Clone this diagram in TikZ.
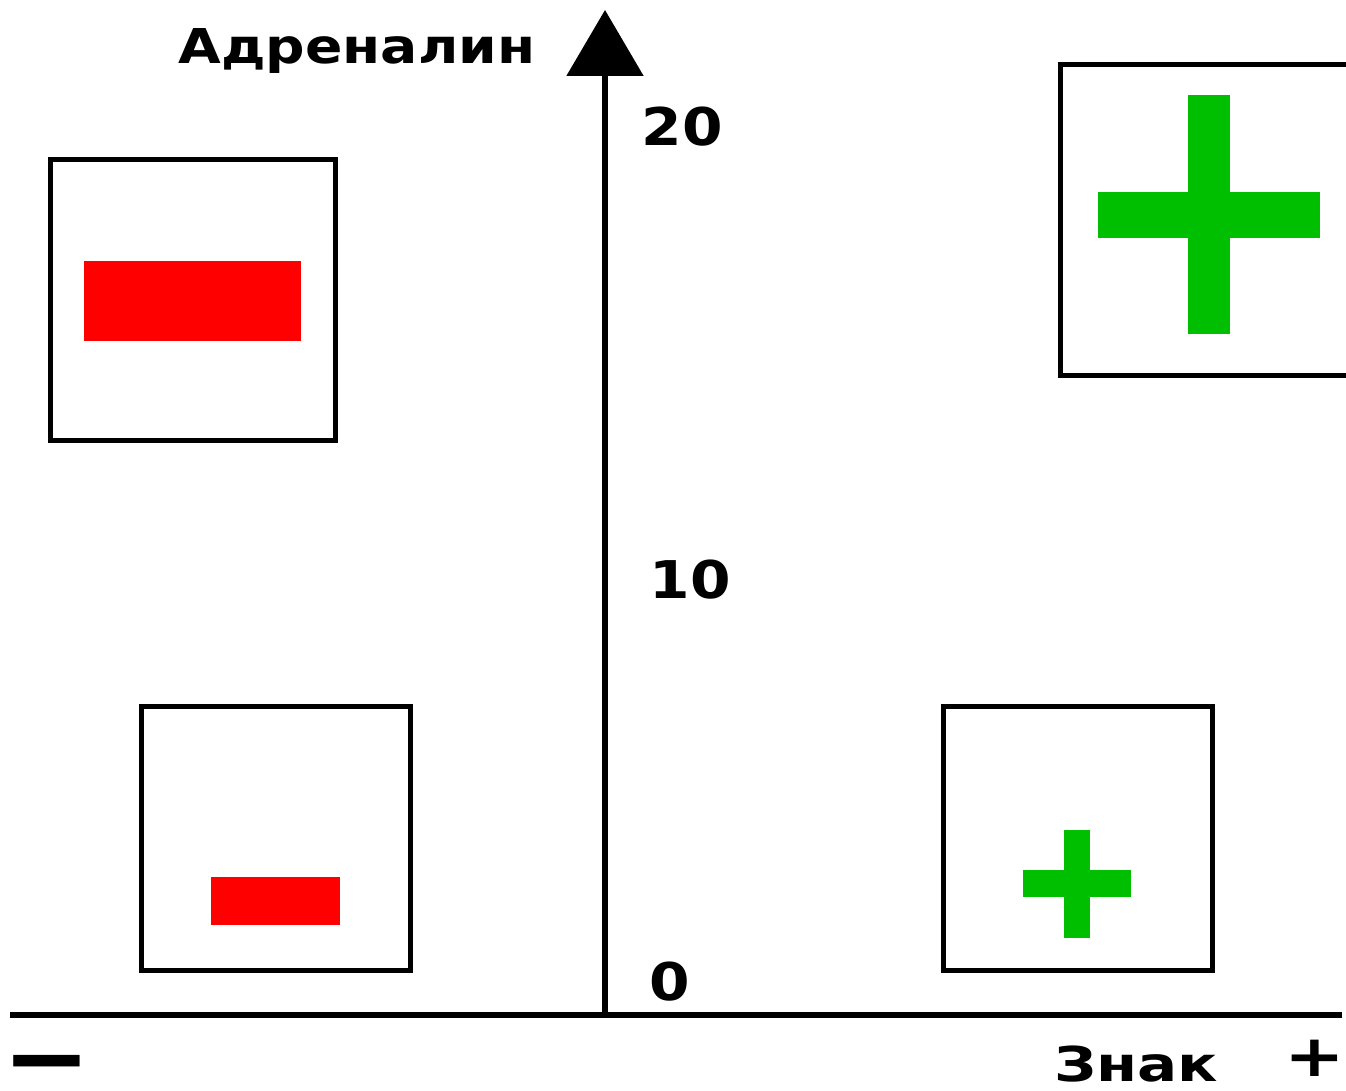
\documentclass[tikz,border=0pt]{standalone}
\usepackage{fontspec}
\setmainfont{DejaVu Sans}
\usetikzlibrary{arrows.meta}
\definecolor{gr}{RGB}{0,190,0}
\definecolor{rd}{RGB}{255,0,0}
\begin{document}
\begin{tikzpicture}[x=1pt,y=-1pt,
  box/.style={draw=black,line width=5pt,fill=white,inner sep=0pt},
  lbl/.style={font=\bfseries\fontsize{48}{50}\selectfont,inner sep=0pt},
  num/.style={font=\bfseries\fontsize{52}{54}\selectfont,inner sep=0pt,xscale=1.12},
  axis/.style={draw=black,line width=5.5pt}]
\useasboundingbox[fill=white] (0,0) rectangle (1346,1091);
% boxes
\node[box,minimum width=285,minimum height=280] (bTL) at (192.5,300) {};
\node[box,minimum width=269,minimum height=264] (bBL) at (275.5,838) {};
\node[box,minimum width=269,minimum height=264] (bBR) at (1077.5,838) {};
\node[box,minimum width=320,minimum height=310] (bTR) at (1220,220) {};
% signs in boxes
\fill[rd] (84,261) rectangle (301,341);
\fill[rd] (211,877) rectangle (340,925);
\fill[gr] (1023,870) rectangle (1131,897);
\fill[gr] (1064,830) rectangle (1090,938);
\fill[gr] (1098,192) rectangle (1320,238);
\fill[gr] (1188,95) rectangle (1230,334);
% axes
\coordinate (O) at (605,1015);
\coordinate (Ytop) at (605,10);
\coordinate (Xl) at (10,1015);
\coordinate (Xr) at (1342,1015);
\draw[axis] (Xl) -- (Xr);
\draw[axis,-{Triangle[length=66pt,width=76pt]}] (O) -- (Ytop);
% labels
\node[lbl,xscale=1.15] (tY) at (357,51) {Адреналин};
\node[num] (t20) at (682,127) {20};
\node[num] (t10) at (690,580) {10};
\node[num] (t0) at (670,982) {0};
\node[lbl,xscale=1.24] (tZ) at (1136,1064) {Знак};
\node[font=\bfseries\fontsize{100}{102}\selectfont,inner sep=0pt,xscale=1.06] (tM) at (46.5,1074) {−};
\node[font=\bfseries\fontsize{58}{60}\selectfont,inner sep=0pt,xscale=1.25] (tP) at (1314.5,1058.5) {+};
\end{tikzpicture}
\end{document}
